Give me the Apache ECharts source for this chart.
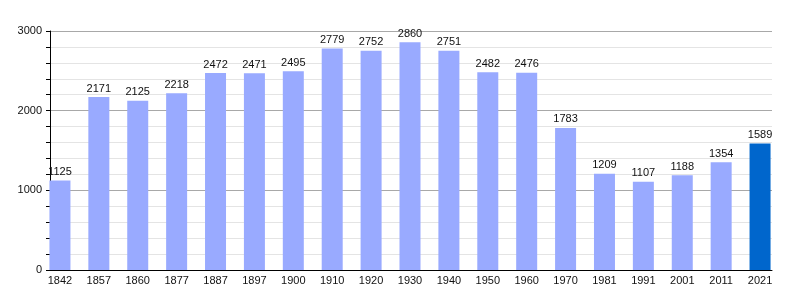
<!DOCTYPE html>
<html><head><meta charset="utf-8">
<script src="https://cdn.jsdelivr.net/npm/echarts@6/dist/echarts.min.js"></script>
<style>html,body{margin:0;padding:0;background:#fff}#c{width:800px;height:300px}</style>
</head><body><div id="c"></div>
<script>
var years = ['1842','1857','1860','1877','1887','1897','1900','1910','1920','1930','1940','1950','1960','1970','1981','1991','2001','2011','2021'];
var population = [1125,2171,2125,2218,2472,2471,2495,2779,2752,2860,2751,2482,2476,1783,1209,1107,1188,1354,1589];
var yTicks = [0,1000,2000,3000];
var lightColor = '#99aaff';
var highlightColor = '#0066cc';

var chart = echarts.init(document.getElementById('c'), null, {renderer:'canvas'});
var font = 'Liberation Sans, Arial, sans-serif';
var minorCol = '#e4e4e4', majorCol = '#a8a8a8';
chart.setOption({
  animation:false,
  grid:[
    {left:40.5, right:20.5, top:31, bottom:30},
    {left:50, right:28, top:31, bottom:30}
  ],
  xAxis:[
    {type:'category', gridIndex:0, data:years, axisLine:{show:false}, axisTick:{show:false},
     axisLabel:{color:'#111', fontSize:11, fontFamily:font, margin:5, interval:0}},
    {type:'value', gridIndex:1, min:0, max:1, axisLabel:{show:false}, axisTick:{show:false},
     splitLine:{show:false}, axisLine:{show:true, lineStyle:{color:'#000', width:1}}}
  ],
  yAxis:[
    {type:'value', gridIndex:0, min:0, max:3000, show:false, splitLine:{show:false}},
    {type:'value', gridIndex:1, min:0, max:3000, interval:200,
     axisLine:{show:true, lineStyle:{color:'#000'}},
     axisTick:{show:true, length:4, lineStyle:{color:'#000'}},
     axisLabel:{color:'#111', fontSize:11, fontFamily:font, margin:8,
       formatter:function(v){return yTicks.indexOf(v)>=0 ? String(v) : '';}},
     splitLine:{show:true, lineStyle:{color:[majorCol,minorCol,minorCol,minorCol,minorCol], width:1}}}
  ],
  series:[{
    type:'bar', xAxisIndex:0, yAxisIndex:0, barWidth:21, z:3,
    data: population.map(function(v,i){
      return {value:v, itemStyle:{color: i===population.length-1 ? highlightColor : lightColor}};
    }),
    label:{show:true, position:'top', distance:3, color:'#111', fontSize:11, fontFamily:font}
  }]
});
</script></body></html>
